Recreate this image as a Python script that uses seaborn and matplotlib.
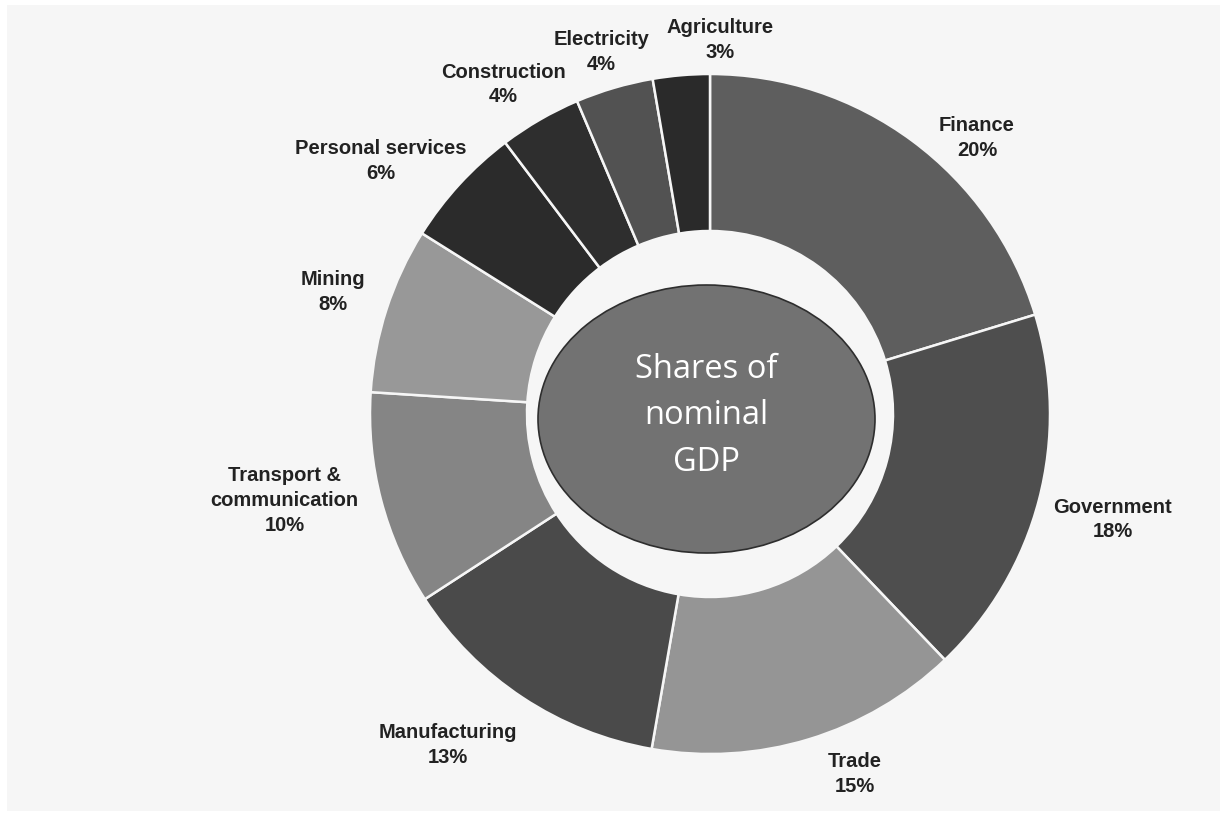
import numpy as np
import seaborn as sns
import matplotlib.pyplot as plt
from matplotlib.patches import Ellipse, Rectangle

# shares of nominal GDP, clockwise from 12 o'clock
sectors = ["Finance", "Government", "Trade", "Manufacturing",
           "Transport &\ncommunication", "Mining", "Personal services",
           "Construction", "Electricity", "Agriculture"]
shares = [20.3, 17.6, 14.9, 13.1, 10.2, 7.9, 5.8, 3.9, 3.7, 2.7]
greys = ["#5e5e5e", "#4e4e4e", "#959595", "#4a4a4a", "#858585",
         "#989898", "#2b2b2b", "#2e2e2e", "#525252", "#2a2a2a"]
center_text = "Shares of\nnominal\nGDP"

# label placement (angle nudge in degrees, distance in radii)
label_nudge = [7.4, -0.1, -5.1, 5.0, 3.3, 0.2, -4.9, -2.0, -0.3, 6.4]
label_dist = [1.132, 1.224, 1.138, 1.238, 1.276, 1.168, 1.224, 1.147, 1.115, 1.103]

sns.set_theme(style="white")
plt.rcParams['font.family'] = ['Liberation Sans', 'DejaVu Sans']

W, H = 1226, 820
fig = plt.figure(figsize=(W / 100, H / 100), dpi=100)
fig.patch.set_facecolor("white")
ax = fig.add_axes([0, 0, 1, 1])

# light grey panel
ax.add_patch(Rectangle((7, H - 812), 1213, 806, facecolor="#f6f6f6",
                       edgecolor="none", zorder=0))

cx, cy, R = 710, H - 415, 340
ax.pie(shares, colors=greys, startangle=90, counterclock=False,
       center=(cx, cy), radius=R, frame=True,
       wedgeprops=dict(width=R - 183, edgecolor="#f6f6f6", linewidth=1.8))
ax.set_xlim(0, W)
ax.set_ylim(0, H)
ax.set_aspect("equal")
ax.axis("off")

total = sum(shares)
cum = np.cumsum([0] + shares)
for i, name in enumerate(sectors):
    mid = (cum[i] + shares[i] / 2) / total * 360 + label_nudge[i]
    a = np.deg2rad(mid)
    x = cx + R * label_dist[i] * np.sin(a)
    y = cy + R * label_dist[i] * np.cos(a)
    ax.text(x, y, f"{name}\n{shares[i]:.0f}%", ha="center", va="center",
            fontsize=14.5, fontweight="bold", color="#222222",
            linespacing=1.38, multialignment="center")

ax.add_patch(Ellipse((706.5, H - 420), 337, 268, facecolor="#727272",
                     edgecolor="#2e2e2e", linewidth=1.2, zorder=5))
ax.text(706.5, H - 416, center_text, ha="center", va="center",
        fontsize=23.5, color="white", family=["Open Sans", "DejaVu Sans"],
        linespacing=1.55, zorder=6)

fig.savefig("out.png", dpi=100, facecolor=fig.get_facecolor())
